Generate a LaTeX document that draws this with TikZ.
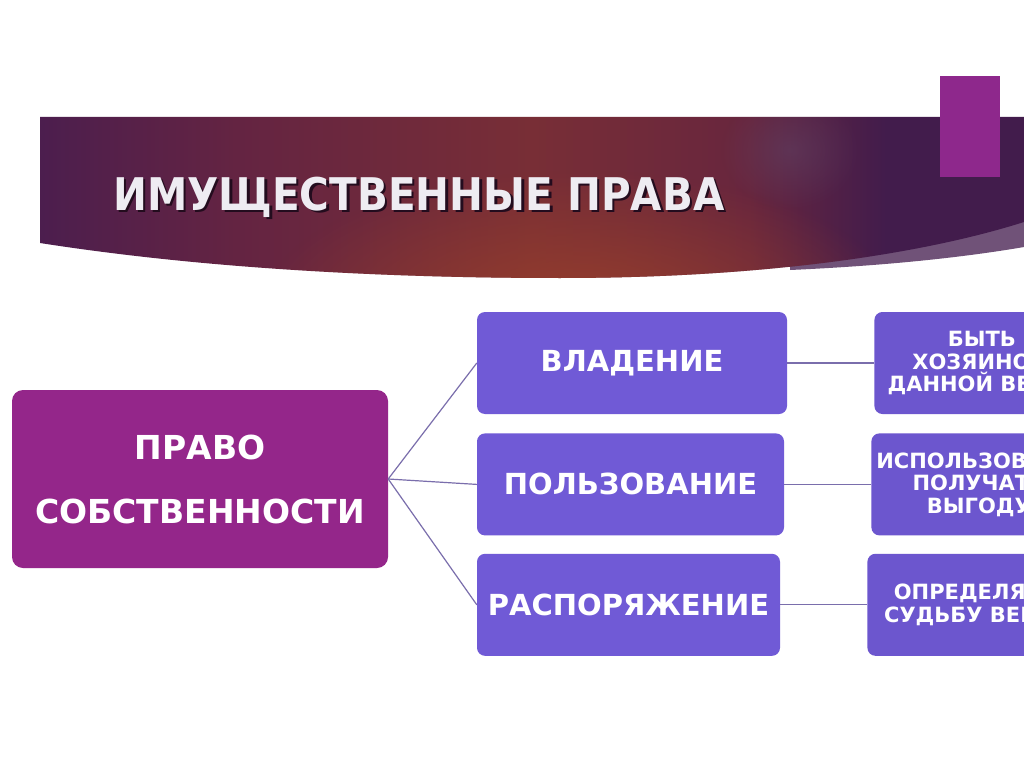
\documentclass[tikz,border=0pt]{standalone}
\usepackage{fontspec}
\setmainfont{DejaVu Sans}
\newfontfamily\headfont{DejaVu Sans Condensed}
\usepackage{xcolor}
\usetikzlibrary{positioning, fadings}

\definecolor{bannerL}{RGB}{76,30,78}
\definecolor{bannerA}{RGB}{100,36,66}
\definecolor{bannerM}{RGB}{120,46,54}
\definecolor{bannerB}{RGB}{104,38,62}
\definecolor{bannerR}{RGB}{66,28,76}
\definecolor{glowcol}{RGB}{150,62,44}
\definecolor{hazecol}{RGB}{96,72,108}
\definecolor{wedgecol}{RGB}{112,82,120}
\definecolor{flagcol}{RGB}{142,40,140}
\definecolor{ownercol}{RGB}{148,38,138}
\definecolor{powercol}{RGB}{112,90,214}
\definecolor{sensecol}{RGB}{108,86,206}
\definecolor{linkcol}{RGB}{122,110,172}
\definecolor{headcol}{RGB}{238,236,242}
\definecolor{shadecol}{RGB}{35,12,30}

\pgfdeclarehorizontalshading{bannershade}{100bp}{color(0bp)=(bannerL);
    color(25bp)=(bannerL); color(35bp)=(bannerA); color(50bp)=(bannerM);
    color(61bp)=(bannerB); color(68bp)=(bannerR); color(100bp)=(bannerR)}
\tikzfading[name=glow, inner color=transparent!0, outer color=transparent!100]

\newcommand{\bannerpath}{(40,117) -- (1024,117) -- (1024,222)
    .. controls (920,255) and (760,278) .. (560,278)
    .. controls (380,278) and (200,268) .. (40,243) -- cycle}

\begin{document}
\begin{tikzpicture}[x=1pt,y=-1pt,
    base/.style={text=white, align=center, inner sep=0pt},
    owner/.style={base, fill=ownercol, rounded corners=11pt, minimum width=376pt,
        minimum height=178pt, font=\bfseries\fontsize{33}{64}\selectfont},
    power/.style={base, fill=powercol, rounded corners=8pt, minimum height=102pt,
        font=\bfseries\fontsize{29}{36}\selectfont},
    sense/.style={base, fill=sensecol, rounded corners=8pt, minimum width=215pt,
        minimum height=102pt, font=\bfseries\fontsize{21}{22.5}\selectfont},
    headline/.style={anchor=west, inner sep=0pt, font=\headfont\bfseries\fontsize{45}{50}\selectfont},
    link/.style={draw=linkcol, line width=1.2pt}]

    \useasboundingbox (0,0) rectangle (1024,767);
    \clip (0,0) rectangle (1024,767);
    \fill[white] (0,0) rectangle (1024,767);

    % banner
    \fill[wedgecol] (790,270) .. controls (880,266) and (960,258) .. (1024,247)
        -- (1024,200) -- (790,200) -- cycle;
    \shade[shading=bannershade] \bannerpath;
    \begin{scope}
        \clip \bannerpath;
        \fill[glowcol, path fading=glow] (580,310) ellipse (320 and 140);
        \fill[hazecol, path fading=glow, opacity=.45] (790,150) ellipse (70 and 60);
    \end{scope}
    \fill[flagcol] (940,76) rectangle (1000,177);

    \node[headline, text=shadecol] (headshade) at (115.5,199.5) {ИМУЩЕСТВЕННЫЕ ПРАВА};
    \node[headline, text=headcol] (head) at (113,197) {ИМУЩЕСТВЕННЫЕ ПРАВА};

    % boxes
    \node[owner] (owner) at (200,479) {ПРАВО\\СОБСТВЕННОСТИ};
    \node[power, minimum width=310pt] (hold) at (632,363) {ВЛАДЕНИЕ};
    \node[power, minimum width=307pt, below=19pt of hold.south west, anchor=north west] (use) {ПОЛЬЗОВАНИЕ};
    \node[power, minimum width=303pt, below=18pt of use.south west, anchor=north west] (dispose) {РАСПОРЯЖЕНИЕ};

    \node[sense, right=87pt of hold] (holdtext) {БЫТЬ\\ХОЗЯИНОМ\\ДАННОЙ ВЕЩИ};
    \node[sense, right=87pt of use] (usetext) {ИСПОЛЬЗОВАТЬ,\\ПОЛУЧАТЬ\\ВЫГОДУ};
    \node[sense, right=87pt of dispose] (disposetext) {ОПРЕДЕЛЯТЬ\\СУДЬБУ ВЕЩИ};

    \path[link] (owner.east) edge (hold.west)
                (owner.east) edge (use.west)
                (owner.east) edge (dispose.west)
                (hold) edge (holdtext)
                (use) edge (usetext)
                (dispose) edge (disposetext);
\end{tikzpicture}
\end{document}
